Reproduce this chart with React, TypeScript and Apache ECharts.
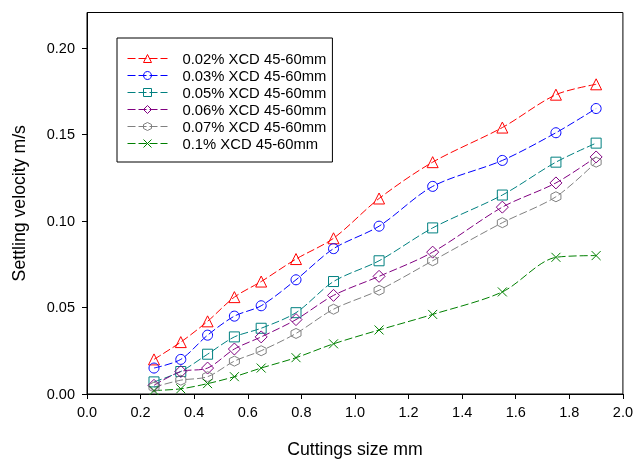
import React, { useEffect, useRef } from "react";
import * as echarts from "echarts";

const sizes = [0.25, 0.35, 0.45, 0.55, 0.65, 0.78, 0.92, 1.09, 1.29, 1.55, 1.75, 1.9];
const seriesNames = [
  "0.02% XCD 45-60mm",
  "0.03% XCD 45-60mm",
  "0.05% XCD 45-60mm",
  "0.06% XCD 45-60mm",
  "0.07% XCD 45-60mm",
  "0.1% XCD 45-60mm",
];
const v002 = [0.020, 0.030, 0.042, 0.056, 0.065, 0.078, 0.090, 0.113, 0.134, 0.154, 0.173, 0.179];
const v003 = [0.015, 0.020, 0.034, 0.045, 0.051, 0.066, 0.084, 0.097, 0.120, 0.135, 0.151, 0.165];
const v005 = [0.007, 0.013, 0.023, 0.033, 0.038, 0.047, 0.065, 0.077, 0.096, 0.115, 0.134, 0.145];
const v006 = [0.005, 0.013, 0.015, 0.026, 0.033, 0.043, 0.057, 0.068, 0.082, 0.108, 0.122, 0.137];
const v007 = [0.004, 0.008, 0.010, 0.019, 0.025, 0.035, 0.049, 0.060, 0.077, 0.099, 0.114, 0.134];
const v010 = [0.002, 0.003, 0.006, 0.010, 0.015, 0.021, 0.029, 0.037, 0.046, 0.059, 0.079, 0.080];
const yTicks = [0, 0.05, 0.1, 0.15, 0.2];

const colors = ["#ff0000", "#0000ff", "#008080", "#800080", "#808080", "#008000"];
const symbols = [
  "triangle",
  "circle",
  "rect",
  "diamond",
  "path://M5,0L9.33,2.5L9.33,7.5L5,10L0.67,7.5L0.67,2.5Z",
  "path://M0,0L10,10M10,0L0,10",
];
const symbolSizes = [11, 10, 10, 12, 10, 9];

export default function App() {
  const ref = useRef<HTMLDivElement>(null);
  useEffect(() => {
    if (!ref.current) return;
    const chart = echarts.init(ref.current, undefined, { renderer: "svg" });
    const allValues = [v002, v003, v005, v006, v007, v010];
    const font = "'Liberation Sans', Arial, sans-serif";
    chart.setOption({
      animation: false,
      textStyle: { fontFamily: font },
      grid: {
        left: 87,
        right: 10.5,
        top: 12.5,
        bottom: 63.5,
        show: true,
        borderColor: "#000",
        borderWidth: 1,
        backgroundColor: "transparent",
      },
      legend: {
        orient: "vertical",
        left: 117,
        top: 38,
        padding: [13, 6, 11, 10],
        itemGap: 2,
        itemWidth: 40,
        itemHeight: 10,
        borderColor: "#000",
        borderWidth: 1,
        backgroundColor: "#fff",
        itemStyle: { borderWidth: 1 },
        lineStyle: { width: 1 },
        textStyle: {
          fontSize: 14.8,
          lineHeight: 15,
          color: "#000",
          fontFamily: font,
          padding: [0, 0, 0, 10],
        },
        data: seriesNames,
      },
      xAxis: {
        type: "value",
        min: 0,
        max: 2,
        interval: 0.2,
        name: "Cuttings size mm",
        nameLocation: "middle",
        nameGap: 46,
        nameTextStyle: { fontSize: 17.7, color: "#000", fontFamily: font },
        axisLine: { lineStyle: { color: "#000" } },
        axisTick: { inside: false, length: 5, lineStyle: { color: "#000" } },
        axisLabel: {
          fontSize: 14.5,
          color: "#000",
          margin: 10,
          formatter: (v: number) => v.toFixed(1),
        },
        splitLine: { show: false },
      },
      yAxis: {
        type: "value",
        min: 0,
        max: 0.2205,
        name: "Settling velocity m/s",
        nameLocation: "middle",
        nameGap: 59,
        nameTextStyle: { fontSize: 17.7, color: "#000", fontFamily: font },
        axisLine: { show: true, lineStyle: { color: "#000" } },
        axisTick: { show: true, length: 5, lineStyle: { color: "#000" }, customValues: yTicks },
        axisLabel: {
          fontSize: 14.5,
          color: "#000",
          margin: 12,
          customValues: yTicks,
          formatter: (v: number) => v.toFixed(2),
        },
        splitLine: { show: false },
      },
      series: seriesNames.map((name, i) => ({
        name,
        type: "line",
        data: sizes.map((x, j) => [x, allValues[i][j]]),
        smooth: 0.3,
        symbol: symbols[i],
        symbolSize: symbolSizes[i],
        showAllSymbol: true,
        lineStyle: { color: colors[i], width: 1, type: [8, 3] },
        itemStyle: { color: "rgba(255,255,255,0)", borderColor: colors[i], borderWidth: 1 },
        emphasis: { disabled: true },
      })),
    });
    return () => chart.dispose();
  }, []);
  return (
    <div
      ref={ref}
      style={{ position: "fixed", left: 0, top: 0, width: 636, height: 463 }}
    />
  );
}
